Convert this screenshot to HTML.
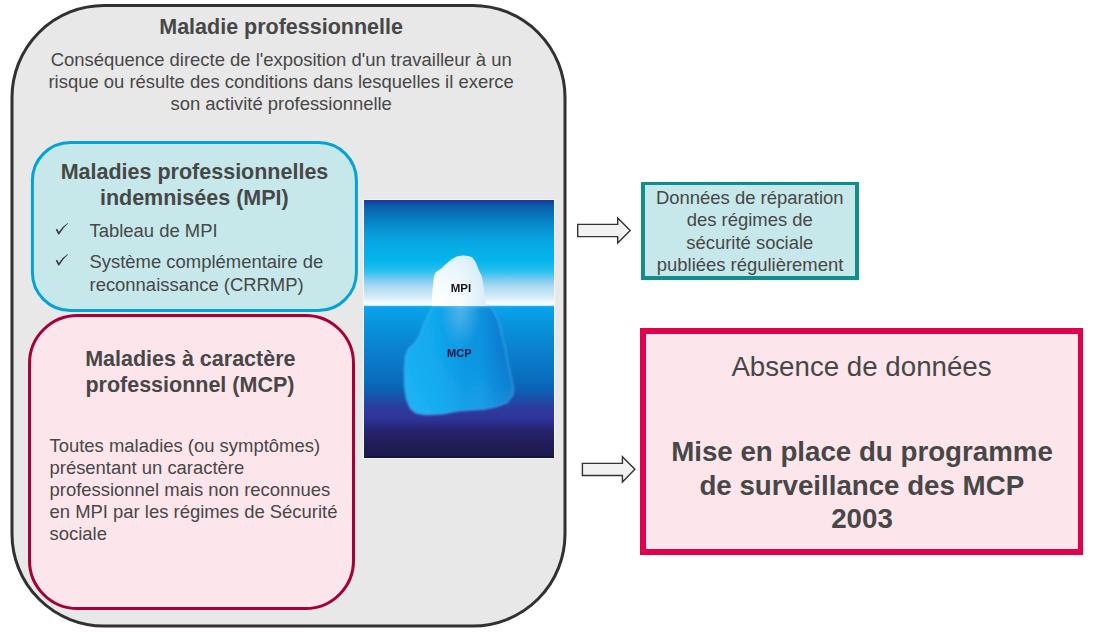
<!DOCTYPE html>
<html><head><meta charset="utf-8"><style>
html,body{margin:0;padding:0;background:#fff;width:1093px;height:632px;overflow:hidden;}
.t{position:absolute;white-space:nowrap;font-family:"Liberation Sans", sans-serif;}
svg.bg{position:absolute;left:0;top:0;}
</style></head><body>
<svg class="bg" width="1093" height="632" viewBox="0 0 1093 632">
<rect x="12" y="5.5" width="553" height="620.5" rx="92" ry="92" fill="#e8e8e8" stroke="#313133" stroke-width="3"/>
<rect x="32.4" y="142.5" width="324" height="168" rx="38" ry="38" fill="#c6e8ea" stroke="#04a3d5" stroke-width="3"/>
<rect x="29.5" y="315.5" width="324" height="293" rx="48" ry="48" fill="#fde5ec" stroke="#a60035" stroke-width="3"/>
<path d="M577.7,224.4 L617.7,224.4 L617.7,218 L630.2,230.5 L617.7,243 L617.7,236.6 L577.7,236.6 Z" fill="#f2f2f2" stroke="#333" stroke-width="1.4" stroke-linejoin="miter"/>
<path d="M582.4,463.4 L622.4,463.4 L622.4,456.7 L634.9,469.35 L622.4,482 L622.4,475.5 L582.4,475.5 Z" fill="#f2f2f2" stroke="#333" stroke-width="1.4" stroke-linejoin="miter"/>
<path d="M55.7,229.5 L57.2,228.8 L58.8,232.0 Q62.5,226.2 67.8,223.0 L68.1,223.6 Q63.0,227.8 59.1,234.6 L58.3,234.6 Z" fill="#3a3a3a"/>
<path d="M55.7,260.5 L57.2,259.8 L58.8,263.0 Q62.5,257.2 67.8,254.0 L68.1,254.6 Q63.0,258.8 59.1,265.6 L58.3,265.6 Z" fill="#3a3a3a"/>
<rect x="363.5" y="199.5" width="191" height="259" fill="none" stroke="#f6f6f2" stroke-width="1"/>

<svg x="364" y="200" width="190" height="258" viewBox="0 0 190 258" overflow="hidden">
<defs>
<linearGradient id="sky" gradientUnits="userSpaceOnUse" x1="0" y1="0" x2="0" y2="106">
 <stop offset="0" stop-color="#1a3c98"/>
 <stop offset="0.019" stop-color="#1840a0"/>
 <stop offset="0.047" stop-color="#0c58a8"/>
 <stop offset="0.094" stop-color="#0868b0"/>
 <stop offset="0.189" stop-color="#0880c4"/>
 <stop offset="0.283" stop-color="#0894d4"/>
 <stop offset="0.377" stop-color="#08a4e0"/>
 <stop offset="0.472" stop-color="#06aee8"/>
 <stop offset="0.566" stop-color="#04b4ec"/>
 <stop offset="0.642" stop-color="#1cbcee"/>
 <stop offset="0.698" stop-color="#40c4f0"/>
 <stop offset="0.736" stop-color="#70c8f0"/>
 <stop offset="0.811" stop-color="#a8d8f2"/>
 <stop offset="0.884" stop-color="#c8e6f4"/>
 <stop offset="0.937" stop-color="#e0f2f8"/>
 <stop offset="0.972" stop-color="#f4fcfe"/>
 <stop offset="1" stop-color="#f4fcfe"/>
</linearGradient>
<linearGradient id="sea" gradientUnits="userSpaceOnUse" x1="0" y1="106" x2="0" y2="258">
 <stop offset="0" stop-color="#0aa4ea"/>
 <stop offset="0.092" stop-color="#0898e0"/>
 <stop offset="0.224" stop-color="#0a88d4"/>
 <stop offset="0.355" stop-color="#0a7ac8"/>
 <stop offset="0.474" stop-color="#0a6ec0"/>
 <stop offset="0.553" stop-color="#0d60b4"/>
 <stop offset="0.618" stop-color="#1e4ca6"/>
 <stop offset="0.671" stop-color="#2b3c9c"/>
 <stop offset="0.737" stop-color="#30349a"/>
 <stop offset="0.816" stop-color="#262470"/>
 <stop offset="0.914" stop-color="#201c58"/>
 <stop offset="0.987" stop-color="#1c1a4c"/>
 <stop offset="1" stop-color="#120c34"/>
</linearGradient>
<linearGradient id="berg" gradientUnits="userSpaceOnUse" x1="40" y1="0" x2="150" y2="0">
 <stop offset="0" stop-color="#18b0f2"/>
 <stop offset="0.3" stop-color="#10a6ec"/>
 <stop offset="0.55" stop-color="#0a94e0"/>
 <stop offset="0.7" stop-color="#0c92de"/>
 <stop offset="0.85" stop-color="#0a7ed2"/>
 <stop offset="1" stop-color="#0a70c6"/>
</linearGradient>
<linearGradient id="bergh" gradientUnits="userSpaceOnUse" x1="0" y1="106" x2="0" y2="215">
 <stop offset="0" stop-color="#30c0ff" stop-opacity="0"/>
 <stop offset="0.45" stop-color="#30c0ff" stop-opacity="0.05"/>
 <stop offset="1" stop-color="#30c0ff" stop-opacity="0.3"/>
</linearGradient>
<radialGradient id="glow" gradientUnits="userSpaceOnUse" cx="97" cy="106" r="40" gradientTransform="translate(97 106) scale(0.5 1.1) translate(-97 -106)">
 <stop offset="0" stop-color="#ffffff" stop-opacity="0.3"/>
 <stop offset="1" stop-color="#ffffff" stop-opacity="0"/>
</radialGradient>
<linearGradient id="tip" gradientUnits="userSpaceOnUse" x1="68" y1="0" x2="122" y2="0">
 <stop offset="0" stop-color="#ffffff"/>
 <stop offset="0.55" stop-color="#f6fbfe"/>
 <stop offset="1" stop-color="#d6ecf8"/>
</linearGradient>
<linearGradient id="tipv" gradientUnits="userSpaceOnUse" x1="0" y1="55" x2="0" y2="106">
 <stop offset="0" stop-color="#b0dcf2" stop-opacity="0.35"/>
 <stop offset="0.45" stop-color="#c8e8f6" stop-opacity="0.2"/>
 <stop offset="1" stop-color="#ffffff" stop-opacity="0"/>
</linearGradient>
<filter id="soft" x="-10%" y="-10%" width="120%" height="120%"><feGaussianBlur stdDeviation="0.9"/></filter>
<filter id="txb" x="-10%" y="-30%" width="120%" height="160%"><feGaussianBlur stdDeviation="0.35"/></filter>
<filter id="soft2" x="-10%" y="-10%" width="120%" height="120%"><feGaussianBlur stdDeviation="0.6"/></filter>
</defs>
<rect x="0" y="0" width="190" height="106" fill="url(#sky)"/>
<rect x="0" y="106" width="190" height="152" fill="url(#sea)"/>
<g filter="url(#soft)">
<path id="bp" d="M69,106.6 L64.2,115.2 L59.5,124.7 L55.7,136.1 L50,143.7 L44.3,149.3 L41.4,156.9 L40.5,168.3 L40.5,185.4 L42.4,198.7 L46.2,208.2 L51.9,212.9 L61.4,214.8 L78.4,213.9 L93.6,211 L106.9,210 L120.2,209.1 L133.5,206.3 L143,202.5 L148.7,194.9 L149.6,189.2 L146.8,175.9 L143.9,162.6 L141.1,147.4 L137.3,132.3 L134.4,120.9 L129.7,111.4 L125.9,106.6 Z" fill="url(#berg)" stroke="#50c4f4" stroke-opacity="0.45" stroke-width="1.6"/>
<path d="M69,106.6 L64.2,115.2 L59.5,124.7 L55.7,136.1 L50,143.7 L44.3,149.3 L41.4,156.9 L40.5,168.3 L40.5,185.4 L42.4,198.7 L46.2,208.2 L51.9,212.9 L61.4,214.8 L78.4,213.9 L93.6,211 L106.9,210 L120.2,209.1 L133.5,206.3 L143,202.5 L148.7,194.9 L149.6,189.2 L146.8,175.9 L143.9,162.6 L141.1,147.4 L137.3,132.3 L134.4,120.9 L129.7,111.4 L125.9,106.6 Z" fill="url(#bergh)"/>
<rect x="40" y="106" width="110" height="110" fill="url(#glow)"/>
</g>
<rect x="0" y="105.2" width="190" height="1" fill="#a8e2f6"/>
<g filter="url(#soft2)">
<path d="M67.8,106 L68.2,94.8 L69.1,85.3 L70.1,75.8 L72,72 L77.7,68.2 L81.5,64.4 L87.2,59.6 L92.9,56.4 L98.6,55.6 L104.3,56 L108.1,57.2 L111.9,62.5 L114.7,70.1 L117.6,75.8 L119.5,85.3 L120.4,94.8 L121.7,104.3 L122.3,106 Z" fill="url(#tip)"/>
<path d="M67.8,106 L68.2,94.8 L69.1,85.3 L70.1,75.8 L72,72 L77.7,68.2 L81.5,64.4 L87.2,59.6 L92.9,56.4 L98.6,55.6 L104.3,56 L108.1,57.2 L111.9,62.5 L114.7,70.1 L117.6,75.8 L119.5,85.3 L120.4,94.8 L121.7,104.3 L122.3,106 Z" fill="url(#tipv)"/>
</g>
<text x="461" y="292" transform="translate(-364,-200)" font-family="Liberation Sans" font-weight="bold" font-size="11.5" text-anchor="middle" fill="#121620" filter="url(#txb)">MPI</text>
<text x="459.3" y="357" transform="translate(-364,-200)" font-family="Liberation Sans" font-weight="bold" font-size="11" text-anchor="middle" fill="#0a1640" filter="url(#txb)">MCP</text>
</svg>
<rect x="641" y="182" width="218" height="98" fill="#128d8d"/><rect x="645" y="185" width="210" height="91" fill="#c6e8ea"/>
<rect x="640" y="328" width="443" height="227" fill="#e0004d"/><rect x="646" y="334" width="432" height="215" fill="#fde5ec"/>
</svg>
<div class="t" style="top:14.00px;font-size:21.5px;line-height:26px;font-weight:bold;color:#474747;left:-18.90px;width:600px;text-align:center;">Maladie professionnelle</div>
<div class="t" style="top:49.00px;font-size:18.45px;line-height:22px;font-weight:normal;color:#474747;left:-18.80px;width:600px;text-align:center;">Conséquence directe de l'exposition d'un travailleur à un</div>
<div class="t" style="top:71.00px;font-size:18.45px;line-height:22px;font-weight:normal;color:#474747;left:-18.90px;width:600px;text-align:center;">risque ou résulte des conditions dans lesquelles il exerce</div>
<div class="t" style="top:93.00px;font-size:18.45px;line-height:22px;font-weight:normal;color:#474747;left:-18.80px;width:600px;text-align:center;">son activité professionnelle</div>
<div class="t" style="top:159.00px;font-size:21.5px;line-height:26px;font-weight:bold;color:#474747;left:-105.50px;width:600px;text-align:center;">Maladies professionnelles</div>
<div class="t" style="top:185.00px;font-size:21.5px;line-height:26px;font-weight:bold;color:#474747;left:-105.70px;width:600px;text-align:center;">indemnisées (MPI)</div>
<div class="t" style="top:220.00px;font-size:18.45px;line-height:22px;font-weight:normal;color:#474747;left:89.50px;">Tableau de MPI</div>
<div class="t" style="top:251.00px;font-size:18.45px;line-height:22px;font-weight:normal;color:#474747;left:89.50px;">Système complémentaire de</div>
<div class="t" style="top:274.00px;font-size:18.45px;line-height:22px;font-weight:normal;color:#474747;left:89.50px;">reconnaissance (CRRMP)</div>
<div class="t" style="top:346.00px;font-size:21.5px;line-height:26px;font-weight:bold;color:#474747;left:-109.70px;width:600px;text-align:center;">Maladies à caractère</div>
<div class="t" style="top:372.00px;font-size:21.5px;line-height:26px;font-weight:bold;color:#474747;left:-110.10px;width:600px;text-align:center;">professionnel (MCP)</div>
<div class="t" style="top:435.00px;font-size:18.45px;line-height:22px;font-weight:normal;color:#474747;left:49.50px;">Toutes maladies (ou symptômes)</div>
<div class="t" style="top:457.00px;font-size:18.45px;line-height:22px;font-weight:normal;color:#474747;left:49.50px;">présentant un caractère</div>
<div class="t" style="top:479.00px;font-size:18.45px;line-height:22px;font-weight:normal;color:#474747;left:49.50px;">professionnel mais non reconnues</div>
<div class="t" style="top:501.00px;font-size:18.45px;line-height:22px;font-weight:normal;color:#474747;left:49.50px;">en MPI par les régimes de Sécurité</div>
<div class="t" style="top:523.00px;font-size:18.45px;line-height:22px;font-weight:normal;color:#474747;left:49.50px;">sociale</div>
<div class="t" style="top:187.00px;font-size:18.45px;line-height:22px;font-weight:normal;color:#474747;left:449.80px;width:600px;text-align:center;">Données de réparation</div>
<div class="t" style="top:209.00px;font-size:18.45px;line-height:22px;font-weight:normal;color:#474747;left:449.80px;width:600px;text-align:center;">des régimes de</div>
<div class="t" style="top:232.00px;font-size:18.45px;line-height:22px;font-weight:normal;color:#474747;left:449.80px;width:600px;text-align:center;">sécurité sociale</div>
<div class="t" style="top:254.00px;font-size:18.45px;line-height:22px;font-weight:normal;color:#474747;left:450.10px;width:600px;text-align:center;">publiées régulièrement</div>
<div class="t" style="top:350.00px;font-size:27.7px;line-height:33px;font-weight:normal;color:#474747;left:561.50px;width:600px;text-align:center;">Absence de données</div>
<div class="t" style="top:435.00px;font-size:27.7px;line-height:33px;font-weight:bold;color:#474747;left:562.00px;width:600px;text-align:center;">Mise en place du programme</div>
<div class="t" style="top:469.00px;font-size:27.7px;line-height:33px;font-weight:bold;color:#474747;left:561.80px;width:600px;text-align:center;">de surveillance des MCP</div>
<div class="t" style="top:502.00px;font-size:27.7px;line-height:33px;font-weight:bold;color:#474747;left:562.00px;width:600px;text-align:center;">2003</div>
</body></html>
